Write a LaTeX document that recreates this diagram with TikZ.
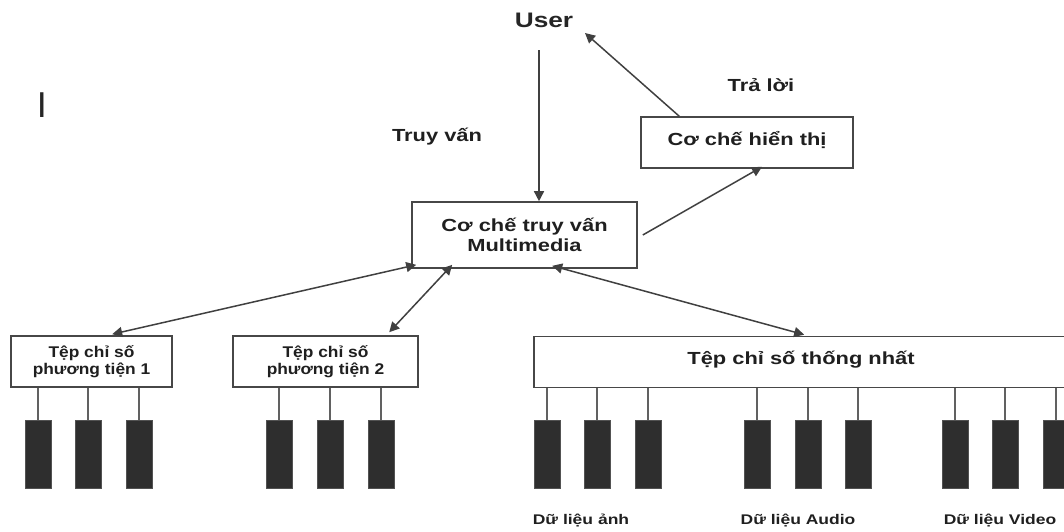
\documentclass[tikz,border=0pt]{standalone}
\usepackage{fontspec}
\setmainfont{Liberation Sans}
\newfontfamily\widefont[FakeStretch=1.25]{Liberation Sans}
\newfontfamily\midfont[FakeStretch=1.12]{Liberation Sans}
\usetikzlibrary{arrows.meta,calc}
\begin{document}
\begin{tikzpicture}[x=1pt,y=-1pt,
  box/.style={draw=black!72,line width=1.6pt,fill=white,inner sep=0pt,align=center},
  bigtxt/.style={text=black!88,font=\widefont\bfseries\fontsize{17.5}{20}\selectfont},
  smalltxt/.style={text=black!88,font=\midfont\bfseries\fontsize{15.5}{17}\selectfont},
  datatxt/.style={text=black!88,font=\widefont\bfseries\fontsize{14}{16}\selectfont},
  bar/.style={draw=black!68,fill=black!82,line width=0.9pt,minimum width=26pt,minimum height=68pt,inner sep=0pt},
  stem/.style={draw=black!62,line width=1.8pt},
  link/.style={draw=black!75,line width=1.5pt,-{Triangle[length=10pt,width=10pt]}},
  both/.style={draw=black!75,line width=1.5pt,{Triangle[length=10pt,width=10pt]}-{Triangle[length=10pt,width=10pt]}}]
\useasboundingbox (0,0) rectangle (1064,531);
\clip (0,0) rectangle (1064,531);

% top level
\node[text=black!85,font=\widefont\bfseries\fontsize{21}{24}\selectfont] (user) at (544,20) {User};
\node[text=black!85,font=\fontsize{36}{40}\selectfont] (mark) at (42,105) {I};
\node[bigtxt] (ask) at (437,137) {Truy vấn};
\node[bigtxt] (reply) at (761,85) {Trả lời};

\node[box,bigtxt,minimum width=225pt,minimum height=66pt] (q) at (524.5,235) {Cơ chế truy vấn\\Multimedia};
\node[box,bigtxt,minimum width=212pt,minimum height=51pt,text depth=9pt] (h) at (747,142.5) {Cơ chế hiển thị};

% index files
\node[box,smalltxt,minimum width=161pt,minimum height=51pt] (b1) at (91.5,361.5) {Tệp chỉ số\\phương tiện 1};
\node[box,smalltxt,minimum width=185pt,minimum height=51pt] (b2) at (325.5,361.5) {Tệp chỉ số\\phương tiện 2};
\node[box,bigtxt,minimum width=534pt,minimum height=51pt,text depth=9pt] (b3) at (801,362) {Tệp chỉ số thống nhất};

% data blocks with their stems
\foreach \x/\n/\p in {38/a1/b1,88/a2/b1,139/a3/b1,
                     279/c1/b2,330/c2/b2,381/c3/b2,
                     547/i1/b3,597/i2/b3,648/i3/b3,
                     757/s1/b3,808/s2/b3,858/s3/b3,
                     955/v1/b3,1005/v2/b3,1056/v3/b3}{
  \node[bar] (\n) at (\x,454) {};
  \draw[stem] (\n.north) -- (\n.north |- \p.south);
}

\node[datatxt] (li) at (581,521) {Dữ liệu ảnh};
\node[datatxt] (la) at (798,521) {Dữ liệu Audio};
\node[datatxt] (lv) at (1000,521) {Dữ liệu Video};

% connectors
\coordinate (uin) at (539,50);
\coordinate (uout) at (585,33);
\draw[link] (uin) -- (uin |- q.north);
\draw[link] ($(h.north west)+(39,0)$) -- (uout);
\draw[link] ($(q.east)+(5,0)$) -- ($(h.south)+(15,-2)$);
\draw[both] ($(b1.north west)+(102,-1)$) -- ($(q.south west)+(5,-4)$);
\draw[both] ($(b2.north west)+(157,-3)$) -- ($(q.south west)+(41,-4)$);
\draw[both] ($(b3.north west)+(271,-1)$) -- ($(q.south west)+(141,-3)$);
\end{tikzpicture}
\end{document}
